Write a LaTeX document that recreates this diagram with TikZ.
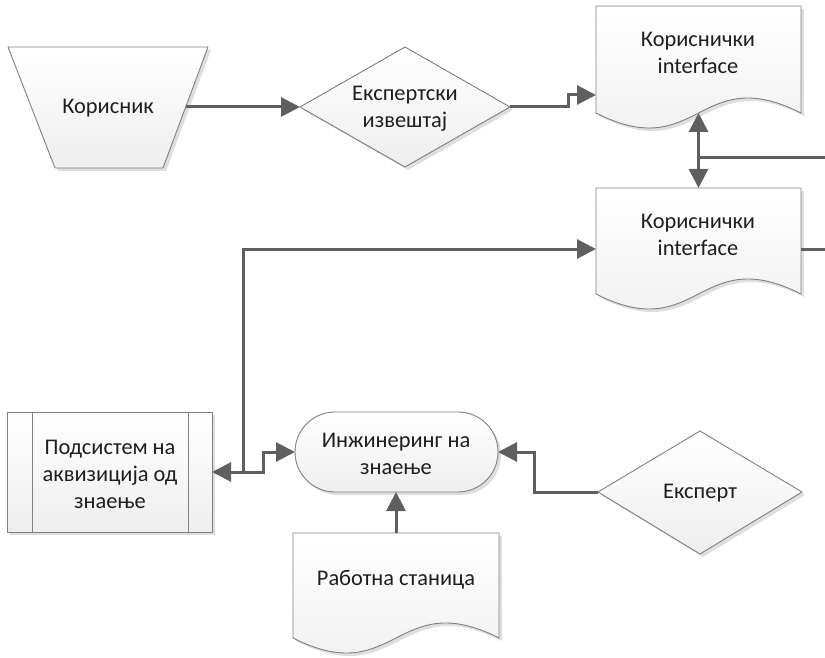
\documentclass[tikz,border=0pt]{standalone}
\usepackage{fontspec}
\setmainfont{Carlito}
\usetikzlibrary{arrows.meta,shadows}
\definecolor{conn}{RGB}{95,95,95}
\definecolor{edgegray}{RGB}{128,128,128}
\definecolor{shadegray}{RGB}{238,238,238}
\definecolor{ink}{RGB}{30,30,30}
\tikzset{
  flowshape/.style={draw=edgegray, line width=0.9pt, top color=white, bottom color=shadegray,
    drop shadow={shadow xshift=3pt, shadow yshift=-3pt, opacity=0.13, fill=black}},
  txt/.style={text=ink, font=\fontsize{22.4}{27}\selectfont, align=center, inner sep=0pt},
  link/.style={draw=conn, line width=3pt},
}
\begin{document}
\begin{tikzpicture}[x=1pt, y=-1pt, >={Triangle[length=19pt,width=19pt]}]
\useasboundingbox (0,0) rectangle (825,658);

% manual input: user
\path[flowshape] (8,47) -- (208,47) -- (163,168) -- (55,168) -- cycle;
\node[txt] (user) at (108,108) {Корисник};
\coordinate (userE) at (185.5,107);

% decision: expert report
\path[flowshape] (300,107) -- (405,47) -- (510,107) -- (405,167) -- cycle;
\node[txt] (report) at (405,109) {Експертски\\извештај};
\coordinate (reportW) at (300,107);
\coordinate (reportE) at (510,107);

% document: user interface (upper)
\path[flowshape] (596,6) -- (801,6) -- (801,113)
  .. controls (698.5,61) and (698.5,165) .. (596,113) -- cycle;
\node[txt] (ui1) at (698,53) {Кориснички\\interface};
\coordinate (ui1W) at (596,95);
\coordinate (ui1S) at (698.5,113);

% document: user interface (lower)
\path[flowshape] (596,188) -- (801,188) -- (801,294)
  .. controls (698.5,242) and (698.5,346) .. (596,294) -- cycle;
\node[txt] (ui2) at (698,235) {Кориснички\\interface};
\coordinate (ui2N) at (698.5,188);
\coordinate (ui2W) at (596,249);
\coordinate (ui2E) at (801,249);

% predefined process: acquisition subsystem
\path[flowshape] (7,412) rectangle (212,532);
\draw[edgegray, line width=0.9pt] (32,412) -- (32,532) (188,412) -- (188,532);
\node[txt] (acq) at (110,474) {Подсистем на\\аквизиција од\\знаење};
\coordinate (acqE) at (212,472);

% terminator: knowledge engineering
\path[flowshape, rounded corners=40pt] (295,412) rectangle (498,492);
\node[txt] (eng) at (396,454) {Инжинеринг на\\знаење};
\coordinate (engW) at (295,452);
\coordinate (engE) at (498,452);
\coordinate (engS) at (396,492);

% decision: expert
\path[flowshape] (598,492) -- (700,431) -- (802,492) -- (700,554) -- cycle;
\node[txt] (expert) at (700,493) {Експерт};
\coordinate (expertW) at (598,492);

% document: workstation
\path[flowshape] (293,533) -- (499,533) -- (499,638)
  .. controls (396,586) and (396,690) .. (293,638) -- cycle;
\node[txt] (ws) at (396,580) {Работна станица};
\coordinate (wsN) at (396,533);

% connector junctions and off-page ends
\coordinate (busJ) at (698.5,158);
\coordinate (busE) at (825,158);
\coordinate (outE) at (825,249);
\coordinate (jn) at (243,472);

% connectors
\draw[link,->] (userE) -- (reportW);
\draw[link,->] (reportE) -- (568,107) |- (ui1W);
\draw[link,<->] (ui1S) -- (ui2N);
\draw[link] (busJ) -- (busE);
\draw[link] (ui2E) -- (outE);
\draw[link,->] (jn) |- (ui2W);
\draw[link,<->] (acqE) -- (263,472) |- (engW);
\draw[link,->] (expertW) -- (534,492) |- (engE);
\draw[link,->] (wsN) -- (engS);
\end{tikzpicture}
\end{document}
